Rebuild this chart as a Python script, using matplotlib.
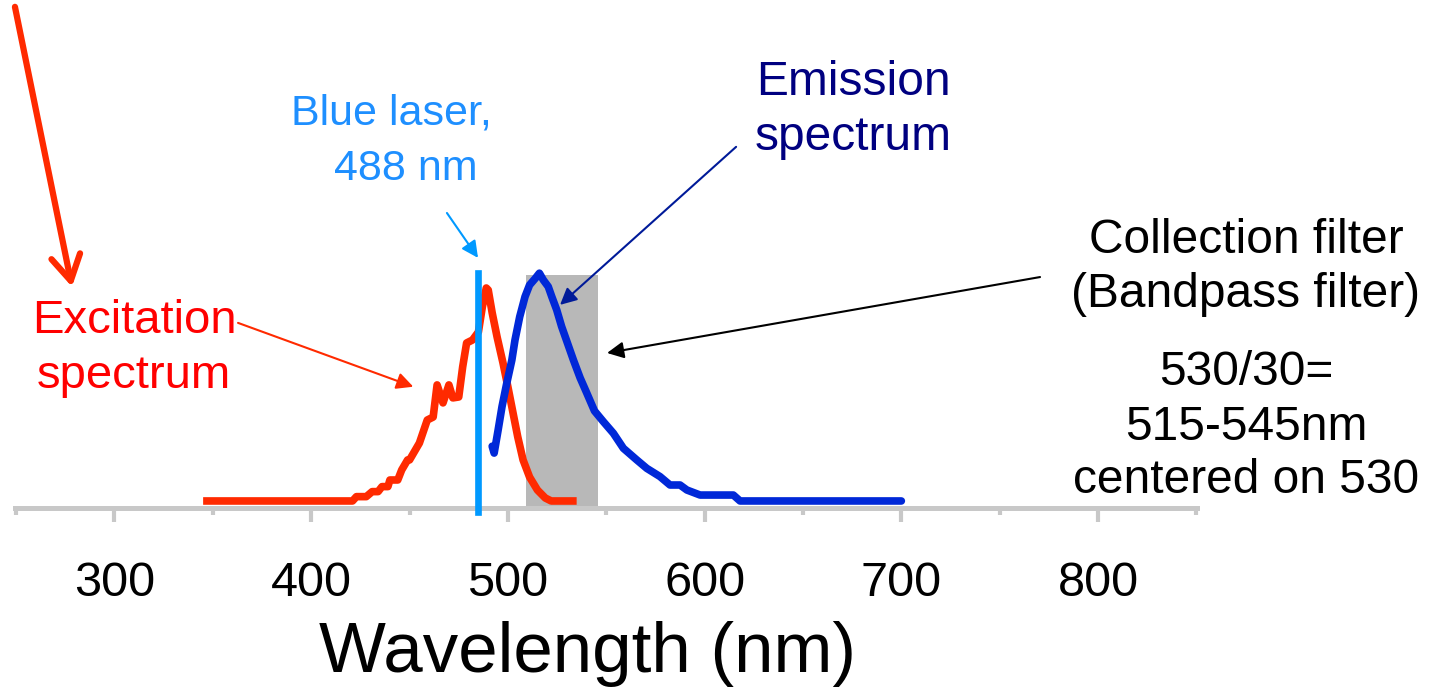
import matplotlib
matplotlib.use("Agg")
import matplotlib.pyplot as plt

plt.rcParams['font.family'] = ['Liberation Sans', 'DejaVu Sans']

# Excitation spectrum (wavelength nm, relative intensity)
ex_nm = [347, 421, 423, 428, 431, 434, 436, 439, 440, 444, 446, 449, 450, 455,
         459, 462, 464, 467, 470, 472, 475, 477, 479, 482, 485, 487, 489, 490,
         492, 494.5, 497.5, 500, 502.6, 505, 507.7, 511, 515, 519, 522, 533]
ex_int = [0, 0, 1.9, 1.9, 4.1, 4.1, 6.3, 6.3, 9.2, 9.2, 13.6, 18, 18, 25.4,
          35.5, 36.8, 50.9, 43, 50.9, 45.2, 45.6, 58.8, 69.3, 70.6, 74.1, 85.1, 93.4, 92.5,
          82.5, 71.9, 60.5, 50, 38.6, 28.1, 18, 10.5, 4.8, 1.3, 0, 0]

# Emission spectrum
em_nm = [492, 493, 495, 497, 499.4, 502, 503.6, 506, 508.7, 511, 514, 516, 518,
         520.5, 522.3, 524.8, 527.3, 530, 533.3, 536.7, 540, 544, 548.5, 553.6,
         558.7, 565.5, 570.6, 577.3, 582.4, 587.5, 591, 597.7, 614.6, 618, 700]
em_int = [24, 21, 31, 41.4, 51.6, 61.8, 70.6, 80.8, 89.6, 94.7, 97.7, 99.9, 96.9,
          94, 89.6, 83.8, 76.5, 69.9, 61.8, 54, 47.5, 39.5, 34.8, 29.7,
          23.1, 18, 14.3, 10.7, 7, 7, 4.8, 2.6, 2.6, 0, 0]

# Blue laser line and bandpass filter band
laser_nm = 485
laser_top = 100
filter_band = [509, 546]
filter_top = 99

tick_major = [300, 400, 500, 600, 700, 800]
tick_minor = [250, 350, 450, 550, 650, 750, 850]

fig = plt.figure(figsize=(14.37, 6.9), dpi=100)
ax = fig.add_axes([0, 0, 1, 1])
ax.set_xlim(241.8, 972.3)
ax.set_ylim(-82.9, 219.7)

# grey band for the collection filter
ax.fill_between(filter_band, -4.2, filter_top, color='#B8B8B8', lw=0, zorder=1)

ax.plot(ex_nm, ex_int, color='#FF2A00', lw=5.5, solid_joinstyle='round', zorder=3)
ax.plot([laser_nm, laser_nm], [-4.7, laser_top], color='#0099FF', lw=4.8, zorder=4)
ax.plot(em_nm, em_int, color='#0028D8', lw=5.5, solid_capstyle='round',
        solid_joinstyle='round', zorder=5)

# axis styling
for s in ['left', 'right', 'top']:
    ax.spines[s].set_visible(False)
ax.spines['bottom'].set_position(('data', -3.1))
ax.spines['bottom'].set_bounds(249.4, 850.1)
ax.spines['bottom'].set_color('#C8C8C8')
ax.spines['bottom'].set_linewidth(3.6)
ax.yaxis.set_visible(False)
ax.set_xticks(tick_major)
ax.set_xticks(tick_minor, minor=True)
ax.tick_params(axis='x', which='major', length=10, width=3, color='#C8C8C8',
               pad=28, labelsize=35)
ax.tick_params(axis='x', which='minor', length=5, width=3, color='#C8C8C8')
ax.patch.set_alpha(0)

ax.text(540.5, -75, 'Wavelength (nm)', fontsize=51, ha='center', va='baseline')

# labels
fs = 34.5
ax.text(309.9, 73.7, 'Excitation', color='#FF0000', fontsize=34, ha='center', va='baseline')
ax.text(309.9, 49.6, 'spectrum', color='#FF0000', fontsize=34, ha='center', va='baseline')
ax.text(440.6, 164.9, 'Blue laser,', color='#1E8FFF', fontsize=31, ha='center', va='baseline')
ax.text(448.2, 140.8, '488 nm', color='#1E8FFF', fontsize=31, ha='center', va='baseline')
ax.text(675.5, 178.1, 'Emission', color='#000080', fontsize=fs, ha='center', va='baseline')
ax.text(675.5, 153.9, 'spectrum', color='#000080', fontsize=fs, ha='center', va='baseline')
right_lines = ['Collection filter', '(Bandpass filter)', '530/30=', '515-545nm', 'centered on 530']
right_y = [108.8, 85.1, 50.9, 26.8, 3.5]
for t, y in zip(right_lines, right_y):
    ax.text(875.2, y, t, color='black', fontsize=fs, ha='center', va='baseline')

# arrows
def arrow(tip, start, color, lw=1.5, scale=25):
    ax.annotate('', xy=tip, xytext=start,
                arrowprops=dict(arrowstyle='-|>', color=color, lw=lw,
                                mutation_scale=scale, shrinkA=0, shrinkB=0),
                zorder=6)

arrow((451.9, 50.1), (362.8, 78.1), '#FF2A00')
arrow((484.8, 106.6), (469.0, 126.3), '#0099FF')
arrow((526.5, 86.0), (616.0, 155.3), '#001A99')
arrow((550.4, 64.9), (770.5, 98.2), 'black')

ax.annotate('', xy=(278.4, 93.9), xytext=(249.4, 216.7),
            arrowprops=dict(arrowstyle='->, head_length=0.6, head_width=0.35',
                            color='#FF2A00', lw=4.5, mutation_scale=30,
                            shrinkA=0, shrinkB=0, capstyle='round'))

fig.savefig('out.png', dpi=100)
